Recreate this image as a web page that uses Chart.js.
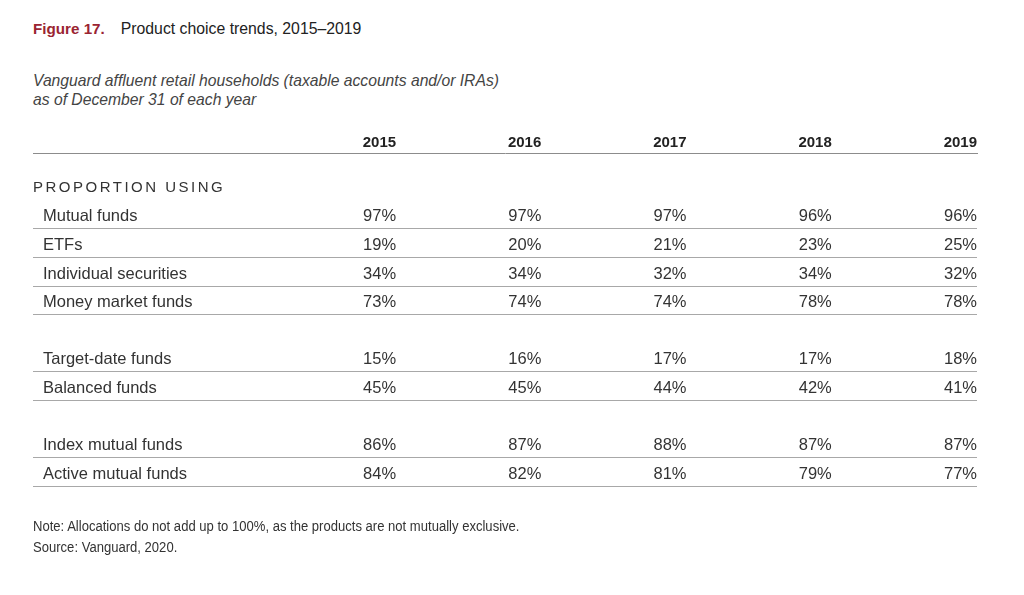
<!DOCTYPE html>
<html>
<head>
<meta charset="utf-8">
<script src="https://cdn.jsdelivr.net/npm/chart.js@4.4.0/dist/chart.umd.min.js"></script>
<style>
  body { margin: 0; background: #fff; font-family: 'Liberation Sans', Arial, sans-serif; }
  #box { position: absolute; left: 0; top: 0; width: 1024px; height: 595px; }
  .title { position: absolute; left: 33px; top: 19.5px; font-size: 15.8px; line-height: 18px; color: #222; white-space: nowrap; }
  .title b { color: #9a2432; margin-right: 16px; font-size: 15.2px; }
  .sub { position: absolute; left: 33px; top: 71px; font-size: 15.7px; line-height: 19.3px; font-style: italic; color: #444; white-space: nowrap; }
  .note { position: absolute; left: 33px; top: 516px; font-size: 14px; line-height: 21px; color: #333; white-space: nowrap;
          transform: scaleX(0.933); transform-origin: left top; }
</style>
</head>
<body>
<div class="title"><b>Figure 17.</b>Product choice trends, 2015–2019</div>
<div class="sub">Vanguard affluent retail households (taxable accounts and/or IRAs)<br>as of December 31 of each year</div>
<div id="box"><canvas id="tableChart"></canvas></div>
<div class="note">Note: Allocations do not add up to 100%, as the products are not mutually exclusive.<br>Source: Vanguard, 2020.</div>

<script>
var section = "PROPORTION USING";
var years = [2015, 2016, 2017, 2018, 2019];
var products = ["Mutual funds", "ETFs", "Individual securities", "Money market funds",
                "Target-date funds", "Balanced funds", "Index mutual funds", "Active mutual funds"];
// which block of the table each row belongs to (a blank row separates blocks)
var groups = [0, 0, 0, 0, 1, 1, 2, 2];

var values2015 = [97, 19, 34, 73, 15, 45, 86, 84];
var values2016 = [97, 20, 34, 74, 16, 45, 87, 82];
var values2017 = [97, 21, 32, 74, 17, 44, 88, 81];
var values2018 = [96, 23, 34, 78, 17, 42, 87, 79];
var values2019 = [96, 25, 32, 78, 18, 41, 87, 77];
var allValues = [values2015, values2016, values2017, values2018, values2019];

// row slot on the y scale: section title is slot 0, blank row between blocks
var slots = products.map(function (p, i) { return i + 1 + groups[i]; });
var rules = slots.map(function (s) { return s + 0.42; });

var textColor = '#333';

var tableText = {
    id: 'tableText',
    afterDatasetsDraw: function (chart) {
        var ctx = chart.ctx;
        var area = chart.chartArea;
        var yScale = chart.scales.y;
        ctx.save();
        ctx.textBaseline = 'middle';
        ctx.fillStyle = textColor;

        // section heading
        ctx.font = '15px "Liberation Sans", Arial, sans-serif';
        ctx.letterSpacing = '2.5px';
        ctx.textAlign = 'left';
        ctx.fillText(section, area.left, yScale.getPixelForValue(0));
        ctx.letterSpacing = '0px';

        // row labels
        ctx.font = '16.5px "Liberation Sans", Arial, sans-serif';
        products.forEach(function (p, i) {
            ctx.fillText(p, area.left + 10, yScale.getPixelForValue(slots[i]));
        });

        // cells, placed at each point of the datasets
        ctx.textAlign = 'right';
        chart.data.datasets.forEach(function (ds, d) {
            var meta = chart.getDatasetMeta(d);
            meta.data.forEach(function (pt, i) {
                ctx.fillText(allValues[d][i] + '%', pt.x, pt.y);
            });
        });
        ctx.restore();
    }
};

var ctx = document.getElementById('tableChart').getContext('2d');
var myChart = new Chart(ctx, {
    type: 'scatter',
    data: {
        datasets: years.map(function (yr, d) {
            return {
                label: String(yr),
                data: allValues[d].map(function (v, i) { return { x: yr, y: slots[i] }; }),
                pointRadius: 0,
                pointHoverRadius: 0
            };
        })
    },
    options: {
        responsive: true,
        maintainAspectRatio: false,
        animation: false,
        events: [],
        layout: { padding: { left: 33, right: 47, top: 129, bottom: 108 } },
        plugins: {
            legend: { display: false },
            tooltip: { enabled: false }
        },
        scales: {
            x: {
                type: 'linear',
                position: 'top',
                min: 2012.5,
                max: 2019,
                afterBuildTicks: function (scale) {
                    scale.ticks = years.map(function (y) { return { value: y }; });
                },
                afterFit: function (scale) { scale.height = 24; },
                grid: { display: false, drawTicks: false },
                border: { display: true, color: '#8c8c8c', dash: [1, 1], width: 1 },
                ticks: {
                    align: 'end',
                    padding: 1,
                    color: '#222',
                    font: { family: '"Liberation Sans", Arial, sans-serif', size: 15, weight: 'bold' },
                    callback: function (v) { return String(v); }
                }
            },
            y: {
                type: 'linear',
                reverse: true,
                min: -1.23,
                max: 10.44,
                afterBuildTicks: function (scale) {
                    scale.ticks = rules.map(function (v) { return { value: v }; });
                },
                afterFit: function (scale) { scale.width = 0; },
                grid: { color: '#a8a8a8', lineWidth: 1, drawTicks: false },
                border: { display: false },
                ticks: { display: false }
            }
        }
    },
    plugins: [tableText]
});
</script>
</body>
</html>
